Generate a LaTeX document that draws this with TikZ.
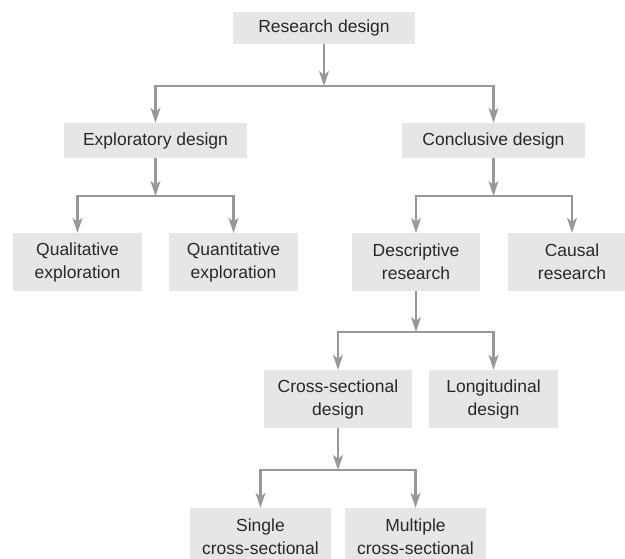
\documentclass[tikz,border=0pt]{standalone}
\usepackage{fontspec}
\setmainfont{Liberation Sans}
\usetikzlibrary{arrows.meta}
\definecolor{boxgray}{RGB}{230,230,230}
\definecolor{linegray}{RGB}{152,152,152}
\definecolor{txtgray}{RGB}{40,40,40}

\begin{document}
\begin{tikzpicture}[x=1pt,y=-1pt,
	>={Stealth[length=15pt,width=10pt,inset=4pt]},
	box/.style={fill=boxgray,text=txtgray,align=center,inner sep=0pt,
		font=\fontsize{17.5}{23}\selectfont},
	link/.style={draw=linegray,line width=2.2pt}]
	  \useasboundingbox (0,0) rectangle (625,558);
	  \node[box,minimum width=182,minimum height=32] (rd) at (324,28) {Research design};
	  \node[box,minimum width=183,minimum height=35] (ed) at (155.5,140.5) {Exploratory design};
	  \node[box,minimum width=183,minimum height=35] (cd) at (493.5,140.5) {Conclusive design};
	  \node[box,minimum width=129,minimum height=58] (ql) at (77.5,262) {Qualitative\\exploration};
	  \node[box,minimum width=129,minimum height=58] (qn) at (233.5,262) {Quantitative\\exploration};
	  \node[box,minimum width=128,minimum height=58] (dr) at (416,262) {Descriptive\\research};
	  \node[box,minimum width=128,minimum height=58] (cr) at (572,262) {Causal\\research};
	  \node[box,minimum width=148,minimum height=58] (cs) at (338,399) {Cross-sectional\\design};
	  \node[box,minimum width=129,minimum height=58] (lo) at (493.5,399) {Longitudinal\\design};
	  \node[box,minimum width=141,minimum height=58] (si) at (260.5,537) {Single\\cross-sectional};
	  \node[box,minimum width=141,minimum height=58] (mu) at (415.5,537) {Multiple\\cross-sectional};
	  \coordinate (j1) at (324,86);
	  \coordinate (j2) at (155.5,196);
	  \coordinate (j3) at (493.5,196);
	  \coordinate (j4) at (416,332);
	  \coordinate (j5) at (338,470);
	  \draw[link,->] (rd) -- (j1);
	  \draw[link,->] (j1) -| (ed);
	  \draw[link,->] (j1) -| (cd);
	  \draw[link,->] (ed) -- (j2);
	  \draw[link,->] (j2) -| (ql);
	  \draw[link,->] (j2) -| (qn);
	  \draw[link,->] (cd) -- (j3);
	  \draw[link,->] (j3) -| (dr);
	  \draw[link,->] (j3) -| (cr);
	  \draw[link,->] (dr) -- (j4);
	  \draw[link,->] (j4) -| (cs);
	  \draw[link,->] (j4) -| (lo);
	  \draw[link,->] (cs) -- (j5);
	  \draw[link,->] (j5) -| (si);
	  \draw[link,->] (j5) -| (mu);
	\end{tikzpicture}
\end{document}
